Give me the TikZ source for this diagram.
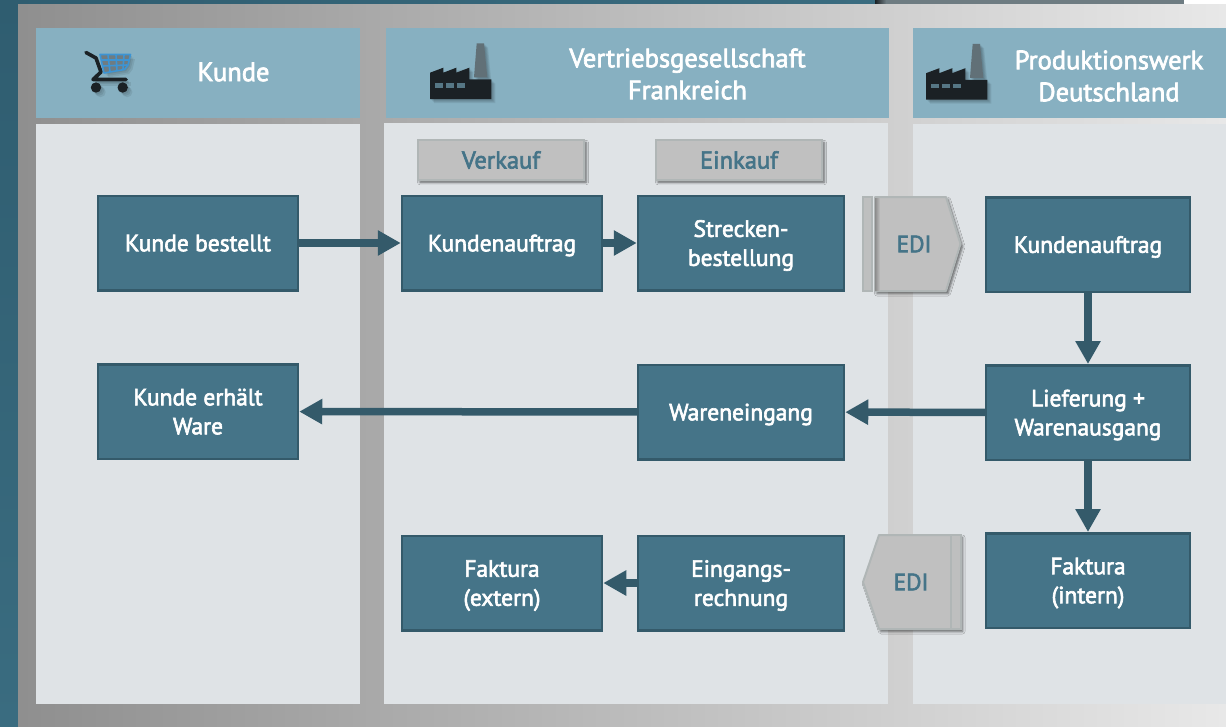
\documentclass[tikz,border=0pt]{standalone}
\usepackage{fontspec}
\usepackage{tikz}
\usetikzlibrary{positioning,arrows.meta,shadows.blur}
\setmainfont[FakeBold=2.6]{PT Sans}
\definecolor{teal1}{HTML}{457488}
\definecolor{teal2}{HTML}{345A6A}
\definecolor{teal3}{HTML}{2F5D70}
\definecolor{teal4}{HTML}{3A6C80}
\definecolor{head}{HTML}{87B0C1}
\definecolor{panel}{HTML}{DFE3E6}
\definecolor{btn}{HTML}{C0C0C0}
\definecolor{btnline}{HTML}{B0B6B6}
\definecolor{ink}{HTML}{1B2125}
\definecolor{cartblue}{HTML}{3D94D3}
\tikzset{
  factory/.pic = {
    \foreach \d in {1,2,3,4} {
      \fill[black,opacity=.07,shift={(\d,\d)}] (0,-26.3) -- (39.3,-31.3) -- (39.3,-19.7) -- (61.3,-19.7) -- (61.3,0) -- (0,0) -- cycle;
      \fill[black,opacity=.07,shift={(\d,\d)}] (46.7,-55.7) -- (54,-55.7) -- (57.3,-21.7) -- (44,-21.7) -- cycle;
    }
    \fill[teal2!40!gray] (46.7,-55.7) -- (54,-55.7) -- (57.3,-21.7) -- (44,-21.7) -- cycle;
    \fill[ink] (0,-26.3) -- (13.3,-31.3) -- (13.3,-26.3) -- (26.3,-31.3) -- (26.3,-26.3) -- (39.3,-31.3) -- (39.3,-19.7) -- (61.3,-19.7) -- (61.3,0) -- (0,0) -- cycle;
    \foreach \wx in {4.7,15.7,26.7} \fill[teal1!70!gray] (\wx,-15.7) rectangle ++(8.5,4.4);
  }
}
\begin{document}
\begin{tikzpicture}[
x=1pt, y=-1pt,
   stepbox/.style = {rectangle, draw=teal2, fill=teal1, line width=2.5pt, minimum width=200pt, minimum height=94.5pt, text=white, align=center, font=\fontsize{23.5}{29}\selectfont, inner sep=0pt, text depth=0pt},
  widebox/.style = {stepbox, minimum width=206pt},
 rightbox/.style = {stepbox, minimum width=204pt},
   header/.style = {fill=head, minimum height=90pt, anchor=north west},
    title/.style = {text=white, align=center, font=\fontsize{26.5}{32}\selectfont},
   tagbox/.style = {rectangle, fill=btn, draw=btnline, line width=2pt, minimum width=166pt, minimum height=39.5pt, text=teal1, font=\fontsize{24.5}{28}\selectfont, blur shadow={shadow xshift=2pt, shadow yshift=-2.5pt, shadow blur radius=2.5pt, shadow opacity=60}},
   edilab/.style = {text=teal1, font=\fontsize{23.5}{28}\selectfont},
  edishape/.style = {fill=btn, draw=btnline, line width=2pt, line join=round, blur shadow={shadow xshift=2pt, shadow yshift=-2.5pt, shadow blur radius=2.5pt, shadow opacity=60}},
     flow/.style = {-{Triangle[length=23pt,width=24pt]}, line width=7.5pt, draw=teal2},
                    ]
% background
\useasboundingbox (0,0) rectangle (1226,726);
\shade[top color=teal3, bottom color=teal4] (0,0) rectangle (18,726);
\shade[left color=teal3, right color=teal4] (0,0) rectangle (875,4);
\shade[left color=ink, right color=teal1!30!gray] (875,0) rectangle (886,4);
\fill[teal1!30!gray] (886,0) rectangle (1184,4);
\shade[left color=black!44, right color=black!9] (18,4) rectangle (1226,726);
% columns
\fill[panel] (36,124) rectangle (360,704);
\fill[panel] (384,123) rectangle (888,704);
\fill[panel] (913,124) rectangle (1226,704);
\node (h1) [header, minimum width=324pt] at (36,28) {};
\node (h2) [header, minimum width=503pt] at (386,28) {};
\node (h3) [header, minimum width=313pt] at (913,28) {};
\node (t1) [title] at (233.5,72) {Kunde};
\node (t2) [title] at (687.5,74) {Vertriebsgesellschaft\\Frankreich};
\node (t3) [title] at (1109,76) {Produktionswerk\\Deutschland};
% icons
\pic at (430,99) {factory};
\pic at (926,99.5) {factory};
\foreach \d in {1.5,3,4.5} {
  \fill[black,opacity=.08,shift={(\d,\d)}] (100,54.5) -- (130.5,54.5) -- (128,65) -- (124.5,69.5) -- (104,73) -- cycle;
  \fill[black,opacity=.08,shift={(\d,\d)}] (96,87.5) circle (5.2) (122.7,87.5) circle (5.2);
  \draw[black,opacity=.08,line width=3.6pt,shift={(\d,\d)}] (93,79.5) -- (126,79.5);
}
\draw[line width=3.6pt, line cap=round, line join=round, ink] (86,52.5) -- (96,58) -- (101,72) -- (93,79.5) -- (126,79.5);
\fill[ink] (96,87.5) circle (5.2) (122.7,87.5) circle (5.2);
\fill[gray!70!teal1] (100,54.5) -- (130.5,54.5) -- (128,65) -- (124.5,69.5) -- (104,73) -- cycle;
\draw[line width=1.6pt, cartblue, line join=round] (100,54.5) -- (130.5,54.5) -- (128,65) -- (124.5,69.5) -- (104,73) -- cycle
   (102,60) -- (129,60) (103,66) -- (127,65) (108,55) -- (110,72) (116,55) -- (117,71) (124,55) -- (123,69);
% tags
\node (verkauf) [tagbox] at (501,160) {Verkauf};
\node (einkauf) [tagbox] at (739,160) {Einkauf};
% steps
\node (kb) [stepbox] at (198,243) {Kunde bestellt};
\node (ka) [stepbox] at (502,243) {Kundenauftrag};
\node (sb) [widebox, right=33.5pt of ka] {Strecken-\\bestellung};
\node (ke) [stepbox] at (198,411.5) {Kunde erhält\\Ware};
\node (we) [widebox, below=72pt of sb] {Wareneingang};
\node (ei) [widebox] at (741,583) {Eingangs-\\rechnung};
\node (fe) [stepbox, left=33.5pt of ei] {Faktura\\(extern)};
\node (kd) [rightbox] at (1088,244.5) {Kundenauftrag};
\node (li) [rightbox, below=71pt of kd] {Lieferung +\\Warenausgang};
\node (fi) [rightbox, below=71pt of li] {Faktura\\(intern)};
% EDI
\fill[btn!90!btnline, draw=btnline, line width=2pt] (863,197) rectangle (872,291);
\draw[edishape] (875,197) -- (946,197) -- (960.5,244) -- (946,291) -- (875,291) -- cycle;
\shade[left color=black!45, right color=btn] (875,198) rectangle (880,290);
\node (edi1) [edilab] at (914,244) {EDI};
\draw[edishape] (960.5,535) -- (960.5,629) -- (879,629) -- (863,582) -- (879,535) -- cycle;
\fill[btn!90!btnline, draw=btnline, line width=2pt] (950.5,535) rectangle (960.5,629);
\node (edi2) [edilab] at (911,582) {EDI};
% arrows
\draw[flow] (kb) -- (ka);
\draw[flow] (ka) -- (sb);
\draw[flow] (kd) -- (li);
\draw[flow] (li) -- (fi);
\draw[flow] (li) -- (we);
\draw[flow] (we) -- (ke);
\draw[flow] (ei) -- (fe);
\end{tikzpicture}
\end{document}
